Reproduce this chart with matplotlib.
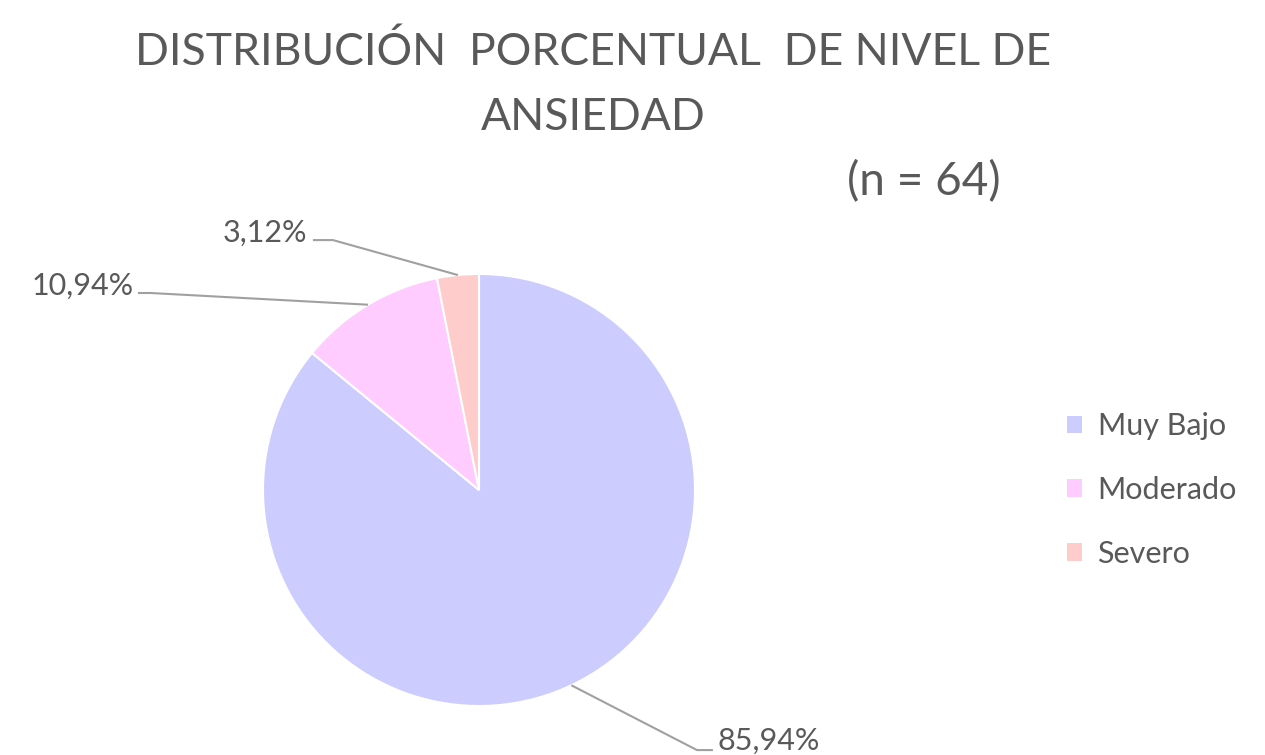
import numpy as np
import matplotlib.pyplot as plt

categories = ["Muy Bajo", "Moderado", "Severo"]
values = [85.94, 10.94, 3.12]
labels = ["85,94%", "10,94%", "3,12%"]
colors = ["#CCCCFF", "#FFCCFF", "#FFCCCC"]

FONT = ["Lato", "DejaVu Sans"]
GRAY = "#595959"

fig = plt.figure(figsize=(12.65, 7.55), dpi=100)
W, H = 1265, 755
cx, cy, r = 479, 490, 216
ax = fig.add_axes([(cx - r) / W, (H - cy - r) / H, 2 * r / W, 2 * r / H])
wedges, _ = ax.pie(values, colors=colors, startangle=90, counterclock=False,
                   radius=1.0, wedgeprops=dict(edgecolor="white", linewidth=1.5))
ax.set_xlim(-1, 1)
ax.set_ylim(-1, 1)
ax.set_aspect("equal")
ax.axis("off")

# label placement in radius units: (bend point, line end, text anchor, ha)
placements = {
    "Muy Bajo": ((1.009, -1.204), (1.083, -1.204), (1.106, -1.205), "left"),
    "Moderado": ((-1.52, 0.912), (-1.579, 0.912), (-1.60, 0.905), "right"),
    "Severo": ((-0.676, 1.157), (-0.769, 1.157), (-0.795, 1.15), "right"),
}
for w, cat, lab in zip(wedges, categories, labels):
    mid = np.deg2rad((w.theta1 + w.theta2) / 2)
    px, py = np.cos(mid), np.sin(mid)
    bend, lend, tpos, ha = placements[cat]
    ax.plot([px, bend[0], lend[0]], [py, bend[1], lend[1]],
            color="#A0A0A0", lw=1.5, clip_on=False, solid_capstyle="butt")
    ax.text(tpos[0], tpos[1], lab, ha=ha, va="baseline", fontsize=22,
            color=GRAY, family=FONT, clip_on=False)

fig.text(593 / W, 1 - 65 / H, "DISTRIBUCIÓN  PORCENTUAL  DE NIVEL DE",
         ha="center", va="baseline", fontsize=32, color=GRAY, family=FONT)
fig.text(593 / W, 1 - 130 / H, "ANSIEDAD",
         ha="center", va="baseline", fontsize=32, color=GRAY, family=FONT)
fig.text(924 / W, 1 - 195 / H, "(n = 64)",
         ha="center", va="baseline", fontsize=33, color=GRAY, family=FONT)

handles = [plt.Rectangle((0, 0), 1, 1, facecolor=c, edgecolor="none") for c in colors]
fig.legend(handles, categories, loc="center left",
           bbox_to_anchor=(1067 / W, 1 - 490 / H), frameon=False,
           borderpad=0, borderaxespad=0,
           prop=dict(family=FONT, size=22), labelcolor=GRAY,
           handlelength=0.5, handleheight=0.5, handletextpad=0.5,
           labelspacing=1.17)

fig.savefig("out.png", dpi=100, facecolor="white")
